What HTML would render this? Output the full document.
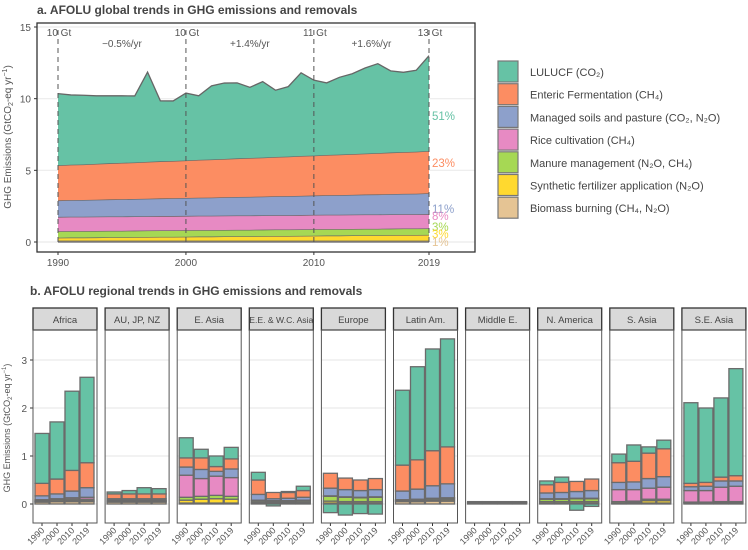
<!DOCTYPE html>
<html><head><meta charset="utf-8"><style>
body{margin:0;background:#fff;}
svg{display:block;font-family:"Liberation Sans",sans-serif;}
</style></head><body>
<svg id="c" width="748" height="550" viewBox="0 0 748 550"></svg>
<script>
const years=[1990,1991,1992,1993,1994,1995,1996,1997,1998,1999,2000,2001,2002,2003,2004,2005,2006,2007,2008,2009,2010,2011,2012,2013,2014,2015,2016,2017,2018,2019];
const biomass=[0.1,0.1,0.1,0.1,0.1,0.1,0.1,0.1,0.1,0.1,0.1,0.1,0.1,0.1,0.1,0.1,0.1,0.1,0.1,0.1,0.1,0.1,0.1,0.1,0.1,0.1,0.1,0.1,0.1,0.1];
const fert=[0.2,0.21,0.21,0.22,0.23,0.23,0.24,0.25,0.26,0.26,0.27,0.28,0.28,0.29,0.3,0.3,0.31,0.32,0.32,0.33,0.34,0.35,0.35,0.36,0.37,0.37,0.38,0.39,0.39,0.4];
const manure=[0.45,0.45,0.45,0.45,0.45,0.45,0.45,0.45,0.45,0.45,0.45,0.45,0.45,0.45,0.45,0.45,0.45,0.45,0.45,0.45,0.45,0.45,0.45,0.45,0.45,0.45,0.45,0.45,0.45,0.45];
const rice=[1.0,1.0,1.0,1.0,1.0,1.0,1.0,1.0,1.0,1.0,1.0,1.0,1.0,1.0,1.0,1.0,1.0,1.0,1.0,1.0,1.0,1.0,1.0,1.0,1.0,1.0,1.0,1.0,1.0,1.0];
const soils=[1.15,1.16,1.17,1.18,1.19,1.2,1.21,1.22,1.23,1.24,1.25,1.26,1.27,1.28,1.29,1.3,1.31,1.32,1.33,1.34,1.35,1.36,1.37,1.38,1.39,1.4,1.41,1.42,1.43,1.45];
const enteric=[2.45,2.47,2.48,2.5,2.52,2.54,2.55,2.57,2.59,2.6,2.62,2.64,2.66,2.67,2.69,2.71,2.72,2.74,2.76,2.78,2.79,2.81,2.83,2.84,2.86,2.88,2.9,2.91,2.93,2.95];
const lulucf=[5.0,4.87,4.83,4.75,4.71,4.68,4.64,6.26,4.22,4.19,4.7,4.47,5.13,5.3,5.27,4.93,5.3,4.66,4.88,5.8,5.26,5.03,5.39,5.61,5.97,6.24,5.7,5.57,5.68,6.65];
const yTicksTop=[0,5,10,15];
const markYears=[1990,2000,2010,2019];
const markLabels=["10 Gt","10 Gt","11 Gt","13 Gt"];
const rateLabels=["\u22120.5%/yr","+1.4%/yr","+1.6%/yr"];
const pctLabels=["51%","23%","11%","8%","3%","3%","1%"];
const compNames=["LULUCF (CO\u2082)","Enteric Fermentation (CH\u2084)","Managed soils and pasture (CO\u2082, N\u2082O)","Rice cultivation (CH\u2084)","Manure management (N\u2082O, CH\u2084)","Synthetic fertilizer application (N\u2082O)","Biomass burning (CH\u2084, N\u2082O)"];
const colors=["#66c2a5","#fc8d62","#8da0cb","#e78ac3","#a6d854","#ffd92f","#e5c494"];

const regions=["Africa","AU, JP, NZ","E. Asia","E.E. & W.C. Asia","Europe","Latin Am.","Middle E.","N. America","S. Asia","S.E. Asia"];
const barYears=["1990","2000","2010","2019"];
// per region: [biomass, fert, manure, rice, soils, enteric, lulucf] for each of 4 years
const rAfrica=[[0.04,0.01,0.02,0.02,0.08,0.26,1.04],[0.05,0.01,0.03,0.02,0.1,0.31,1.19],[0.05,0.02,0.03,0.03,0.14,0.43,1.65],[0.05,0.02,0.03,0.04,0.2,0.52,1.78]];
const rAU=[[0.04,0.01,0.02,0.01,0.03,0.1,0.04],[0.04,0.01,0.02,0.01,0.03,0.1,0.07],[0.04,0.01,0.02,0.01,0.03,0.1,0.13],[0.04,0.01,0.02,0.01,0.03,0.1,0.11]];
const rEAsia=[[0.02,0.06,0.06,0.46,0.17,0.19,0.42],[0.02,0.08,0.06,0.37,0.19,0.24,0.18],[0.02,0.09,0.07,0.4,0.1,0.1,0.22],[0.02,0.08,0.06,0.39,0.18,0.21,0.24]];
const rEE=[[0.02,0.02,0.03,0.01,0.12,0.3,0.16],[0.02,0.02,0.02,0.01,0.04,0.13,-0.04],[0.02,0.02,0.02,0.01,0.05,0.12,0.02],[0.02,0.02,0.03,0.01,0.06,0.14,0.09]];
const rEurope=[[0.02,0.04,0.1,0.01,0.16,0.31,-0.18],[0.02,0.03,0.09,0.01,0.15,0.24,-0.23],[0.02,0.03,0.08,0.01,0.14,0.22,-0.2],[0.02,0.03,0.09,0.01,0.15,0.23,-0.21]];
const rLatin=[[0.05,0.01,0.02,0.01,0.18,0.54,1.56],[0.05,0.02,0.02,0.01,0.21,0.61,1.94],[0.06,0.02,0.03,0.01,0.26,0.73,2.12],[0.06,0.03,0.03,0.01,0.29,0.77,2.25]];
const rMiddle=[[0.02,0.01,0.01,0.0,0.01,0.0,0.0],[0.02,0.01,0.01,0.0,0.01,0.0,0.0],[0.02,0.01,0.01,0.0,0.01,0.0,0.0],[0.02,0.01,0.01,0.0,0.01,0.0,0.0]];
const rNAm=[[0.02,0.03,0.05,0.01,0.12,0.17,0.08],[0.02,0.03,0.05,0.01,0.13,0.21,0.11],[0.02,0.03,0.06,0.01,0.14,0.21,-0.13],[0.02,0.03,0.06,0.01,0.16,0.24,-0.05]];
const rSAsia=[[0.01,0.01,0.03,0.25,0.15,0.41,0.18],[0.02,0.02,0.02,0.24,0.16,0.43,0.34],[0.02,0.05,0.03,0.23,0.2,0.53,0.13],[0.02,0.05,0.03,0.25,0.22,0.58,0.18]];
const rSEAsia=[[0.02,0.01,0.01,0.24,0.08,0.07,1.68],[0.02,0.01,0.01,0.24,0.09,0.08,1.55],[0.02,0.02,0.01,0.3,0.13,0.08,1.65],[0.02,0.02,0.01,0.32,0.11,0.11,2.23]];
const regionData=[rAfrica,rAU,rEAsia,rEE,rEurope,rLatin,rMiddle,rNAm,rSAsia,rSEAsia];
const yTicksBot=[0,1,2,3];

const NS="http://www.w3.org/2000/svg";
const svg=document.getElementById('c');
function el(tag,attrs,parent,text){const e=document.createElementNS(NS,tag);for(const k in attrs)e.setAttribute(k,attrs[k]);if(text!==undefined)e.textContent=text;(parent||svg).appendChild(e);return e;}

// ---------- panel a ----------
const A={l:37,r:475,t:23,b:252};
const xA=y=>58+(y-1990)*(429-58)/29;
const yA=v=>242-v*(215/15);
let t=el('text',{x:37,y:14,'font-size':12,'font-weight':'bold',fill:'#444'},svg,"a. AFOLU global trends in GHG emissions and removals");

const gA=el('g',{});
el('rect',{x:A.l,y:A.t,width:A.r-A.l,height:A.b-A.t,fill:'#fff'},gA);
yTicksTop.forEach(v=>{
 let g=el('line',{x1:A.l,x2:A.r,y1:yA(v),y2:yA(v),stroke:'#ebebeb','stroke-width':1.2},gA);
 
 el('line',{x1:A.l-3,x2:A.l,y1:yA(v),y2:yA(v),stroke:'#333'},gA);
 let tx=el('text',{x:A.l-6,y:yA(v)+4,'font-size':10,fill:'#555','text-anchor':'end'},gA,String(v));
 
});
const series=[biomass,fert,manure,rice,soils,enteric,lulucf];
const cumul=years.map(()=>0);
series.forEach((s,si)=>{
 const lo=cumul.slice();
 s.forEach((v,i)=>cumul[i]+=v);
 let d="M"+years.map((y,i)=>xA(y)+","+yA(cumul[i])).join("L");
 d+="L"+years.map((y,i)=>xA(y)+","+yA(lo[i])).reverse().join("L")+"Z";
 let p=el('path',{d:d,fill:colors[6-si],stroke:'none'},gA);
 
 el('polyline',{points:years.map((y,i)=>xA(y)+","+yA(cumul[i])).join(" "),fill:'none',stroke:'#666','stroke-width':1.3},gA);
});
el('line',{x1:xA(1990),x2:xA(2019),y1:yA(0),y2:yA(0),stroke:'#666','stroke-width':1.3},gA);
markYears.forEach((y,i)=>{
 let l=el('line',{x1:xA(y),x2:xA(y),y1:30,y2:yA(0),stroke:'#555','stroke-dasharray':'5,4','stroke-width':1},gA);
 
 let tx=el('text',{x:xA(y)+1,y:36,'font-size':10,fill:'#555','text-anchor':'middle'},gA,markLabels[i]);
 
 el('line',{x1:xA(y),x2:xA(y),y1:A.b,y2:A.b+3,stroke:'#333'},gA);
 let xl=el('text',{x:xA(y),y:266,'font-size':10,fill:'#555','text-anchor':'middle'},gA,String(y));
 
});
rateLabels.forEach((r,i)=>{
 let tx=el('text',{x:(xA(markYears[i])+xA(markYears[i+1]))/2,y:47,'font-size':10,fill:'#555','text-anchor':'middle'},gA,r);
 
});
{const py=[116,163,209,216,227,234,242];
 pctLabels.forEach((p,i)=>{let tx=el('text',{x:432,y:py[i]+4,'font-size':11.5,fill:colors[i]},gA,p);
 });}
el('rect',{x:A.l,y:A.t,width:A.r-A.l,height:A.b-A.t,fill:'none',stroke:'#333','stroke-width':1.3},gA);
t=el('text',{x:0,y:0,'font-size':10,fill:'#555','text-anchor':'middle',transform:'translate(11,137) rotate(-90)'},svg);
t.innerHTML='GHG Emissions (GtCO<tspan font-size="7" dy="2">2</tspan><tspan dy="-2">-eq yr</tspan><tspan font-size="7" dy="-4">−1</tspan><tspan dy="4">)</tspan>';


// legend
const lg=el('g',{});
compNames.forEach((n,i)=>{
 const y=61+i*22.7;
 let r=el('rect',{x:498,y:y,width:20,height:21,fill:colors[i],stroke:'#777','stroke-width':1.2},lg);
 
 let tx=el('text',{x:530,y:y+15,'font-size':11,fill:'#444'},lg,n);
 
});

// ---------- panel b ----------
t=el('text',{x:30,y:295,'font-size':12,'font-weight':'bold',fill:'#444'},svg,"b. AFOLU regional trends in GHG emissions and removals");

const yB=v=>504-v*48;
const PT=330,PB=523;
t=el('text',{x:0,y:0,'font-size':9,fill:'#555','text-anchor':'middle',transform:'translate(10,428) rotate(-90)'},svg);
t.innerHTML='GHG Emissions (GtCO<tspan font-size="6" dy="2">2</tspan><tspan dy="-2">-eq yr</tspan><tspan font-size="6" dy="-4">−1</tspan><tspan dy="4">)</tspan>';

yTicksBot.forEach(v=>{
 el('line',{x1:30,x2:33,y1:yB(v),y2:yB(v),stroke:'#333'});
 let tx=el('text',{x:27,y:yB(v)+4,'font-size':10,fill:'#555','text-anchor':'end'},svg,String(v));
 
});
regions.forEach((reg,ri)=>{
 const x0=33+72.1*ri,w=64;
 const g=el('g',{});
 el('rect',{x:x0,y:PT,width:w,height:PB-PT,fill:'#fff'},g);
 yTicksBot.forEach(v=>el('line',{x1:x0,x2:x0+w,y1:yB(v),y2:yB(v),stroke:'#ebebeb','stroke-width':1.2},g));
 let s=el('rect',{x:x0,y:308,width:w,height:22,fill:'#d9d9d9',stroke:'#333','stroke-width':1.3},g);
 
 let st=el('text',{x:x0+w/2,y:323,'font-size':reg.length>12?8.6:9.5,fill:'#444','text-anchor':'middle'},g,reg);
 
 regionData[ri].forEach((vals,bi)=>{
  const cx=x0+9+bi*15,bw=14;
  let pos=0,neg=0;
  vals.forEach((v,ci)=>{
   let y1,y2;
   if(v>=0){y1=pos;y2=pos+v;pos+=v;}else{y1=neg+v;y2=neg;neg+=v;}
   if(Math.abs(v)<1e-9)return;
   let r=el('rect',{x:cx-bw/2,y:yB(y2),width:bw,height:Math.max(0.5,yB(y1)-yB(y2)),fill:colors[6-ci],stroke:'#6b6b6b','stroke-width':1.3},g);
   
  });
  el('line',{x1:cx,x2:cx,y1:PB,y2:PB+3,stroke:'#333'},g);
  let xl=el('text',{x:0,y:0,'font-size':9,fill:'#555','text-anchor':'end',transform:`translate(${cx+3},${PB+8}) rotate(-45)`},g,barYears[bi]);
  
 });
 el('rect',{x:x0,y:PT,width:w,height:PB-PT,fill:'none',stroke:'#555','stroke-width':1},g);
});
</script>
</body></html>
